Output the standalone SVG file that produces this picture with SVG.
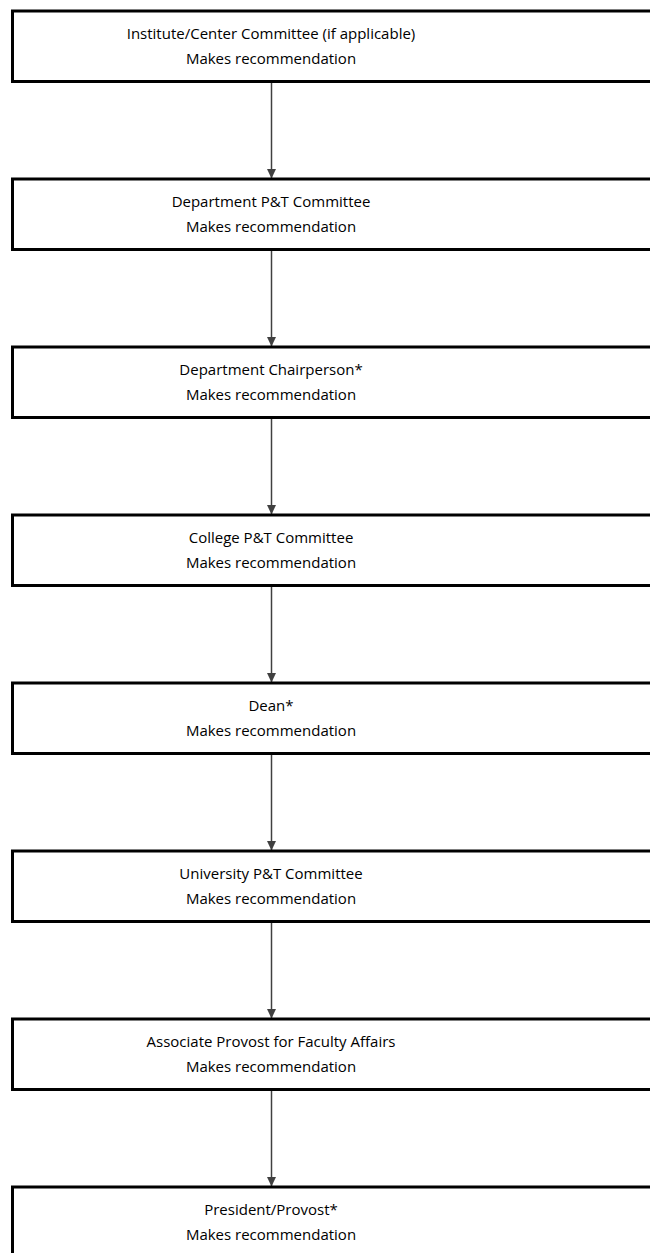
<svg xmlns="http://www.w3.org/2000/svg" width="650" height="1253" viewBox="0 0 650 1253">
<style>
.box{fill:#fff;stroke:#000;stroke-width:3}
.t{font-family:"Open Sans","Liberation Sans",sans-serif;font-size:15px;fill:#000;text-anchor:middle}
.c{stroke:#404040;stroke-width:1.5;fill:none;marker-end:url(#ah)}
</style>
<defs>
<marker id="ah" markerWidth="10" markerHeight="10" refX="9" refY="5" orient="auto" markerUnits="userSpaceOnUse">
<path d="M0,0.5 L9.5,5 L0,9.5 Z" fill="#404040"/>
</marker>
</defs>
<rect width="650" height="1253" fill="#fff"/>
<g id="connectors">
<line class="c" x1="271.5" y1="82.5" x2="271.5" y2="178"/>
<line class="c" x1="271.5" y1="250.5" x2="271.5" y2="346"/>
<line class="c" x1="271.5" y1="418.5" x2="271.5" y2="514"/>
<line class="c" x1="271.5" y1="586.5" x2="271.5" y2="682"/>
<line class="c" x1="271.5" y1="754.5" x2="271.5" y2="850"/>
<line class="c" x1="271.5" y1="922.5" x2="271.5" y2="1018"/>
<line class="c" x1="271.5" y1="1090.5" x2="271.5" y2="1186"/>
</g>
<g id="n1"><rect class="box" x="12.5" y="11" width="700" height="70.5"/><text class="t" x="271" y="39">Institute/Center Committee (if applicable)</text><text class="t" x="271" y="64">Makes recommendation</text></g>
<g id="n2"><rect class="box" x="12.5" y="179" width="700" height="70.5"/><text class="t" x="271" y="207">Department P&amp;T Committee</text><text class="t" x="271" y="232">Makes recommendation</text></g>
<g id="n3"><rect class="box" x="12.5" y="347" width="700" height="70.5"/><text class="t" x="271" y="375">Department Chairperson*</text><text class="t" x="271" y="400">Makes recommendation</text></g>
<g id="n4"><rect class="box" x="12.5" y="515" width="700" height="70.5"/><text class="t" x="271" y="543">College P&amp;T Committee</text><text class="t" x="271" y="568">Makes recommendation</text></g>
<g id="n5"><rect class="box" x="12.5" y="683" width="700" height="70.5"/><text class="t" x="271" y="711">Dean*</text><text class="t" x="271" y="736">Makes recommendation</text></g>
<g id="n6"><rect class="box" x="12.5" y="851" width="700" height="70.5"/><text class="t" x="271" y="879">University P&amp;T Committee</text><text class="t" x="271" y="904">Makes recommendation</text></g>
<g id="n7"><rect class="box" x="12.5" y="1019" width="700" height="70.5"/><text class="t" x="271" y="1047">Associate Provost for Faculty Affairs</text><text class="t" x="271" y="1072">Makes recommendation</text></g>
<g id="n8"><rect class="box" x="12.5" y="1187" width="700" height="70.5"/><text class="t" x="271" y="1215">President/Provost*</text><text class="t" x="271" y="1240">Makes recommendation</text></g>
</svg>
